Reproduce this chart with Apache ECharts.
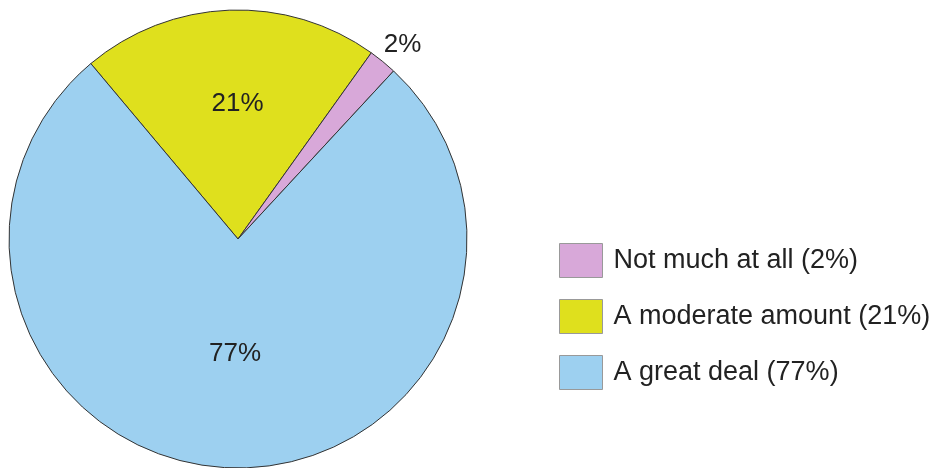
<!DOCTYPE html>
<html>
<head>
<meta charset="utf-8">
<script src="https://cdn.jsdelivr.net/npm/echarts@6/dist/echarts.min.js"></script>
<style>
html,body{margin:0;padding:0;background:#fff;}
#myChart{width:939px;height:468px;}
</style>
</head>
<body>
<div id="myChart"></div>
<script>
// 数据 (clockwise from the upper-left edge)
var categories = ['A moderate amount', 'Not much at all', 'A great deal'];
var values = [21, 2, 77];
var legendOrder = ['Not much at all', 'A moderate amount', 'A great deal'];
var sliceColors = ['#dfe01d', '#d8a8d9', '#9dd0f0'];

var myChart = echarts.init(document.getElementById('myChart'));
var fontName = '"Liberation Sans", Arial, sans-serif';

var arr = [];
for (var i = 0; i < categories.length; i++) {
	arr.push({
		name: categories[i],
		value: values[i],
		itemStyle: { color: sliceColors[i] },
		label: values[i] < 5 ? { position: 'outside' } : { position: 'inside' }
	});
}

myChart.setOption({
	backgroundColor: '#fff',
	animation: false,
	legend: {
		data: legendOrder,
		orient: 'vertical',
		left: 554,
		top: 238,
		icon: 'rect',
		itemWidth: 43,
		itemHeight: 34,
		itemGap: 21,
		textStyle: { fontFamily: fontName, fontSize: 27, color: '#222', padding: [0, 0, 0, 6] },
		itemStyle: { borderColor: '#999', borderWidth: 1 },
		formatter: function (name) {
			var idx = categories.indexOf(name);
			return name + ' (' + values[idx] + '%)';
		}
	},
	series: [{
		type: 'pie',
		center: [238, 239],
		radius: 229,
		startAngle: 130,
		clockwise: true,
		avoidLabelOverlap: false,
		itemStyle: { borderColor: '#333', borderWidth: 1 },
		emphasis: { disabled: true },
		label: {
			formatter: '{c}%',
			fontFamily: fontName,
			fontSize: 26,
			color: '#222'
		},
		labelLine: { show: false, length: 8, length2: 0 },
		labelLayout: function (p) {
			if (p.dataIndex === 0) return { dy: -18, dx: 4 };
			if (p.dataIndex === 1) return { dy: -11, dx: -9 };
			return { dy: -3 };
		},
		data: arr
	}]
});
</script>
</body>
</html>
